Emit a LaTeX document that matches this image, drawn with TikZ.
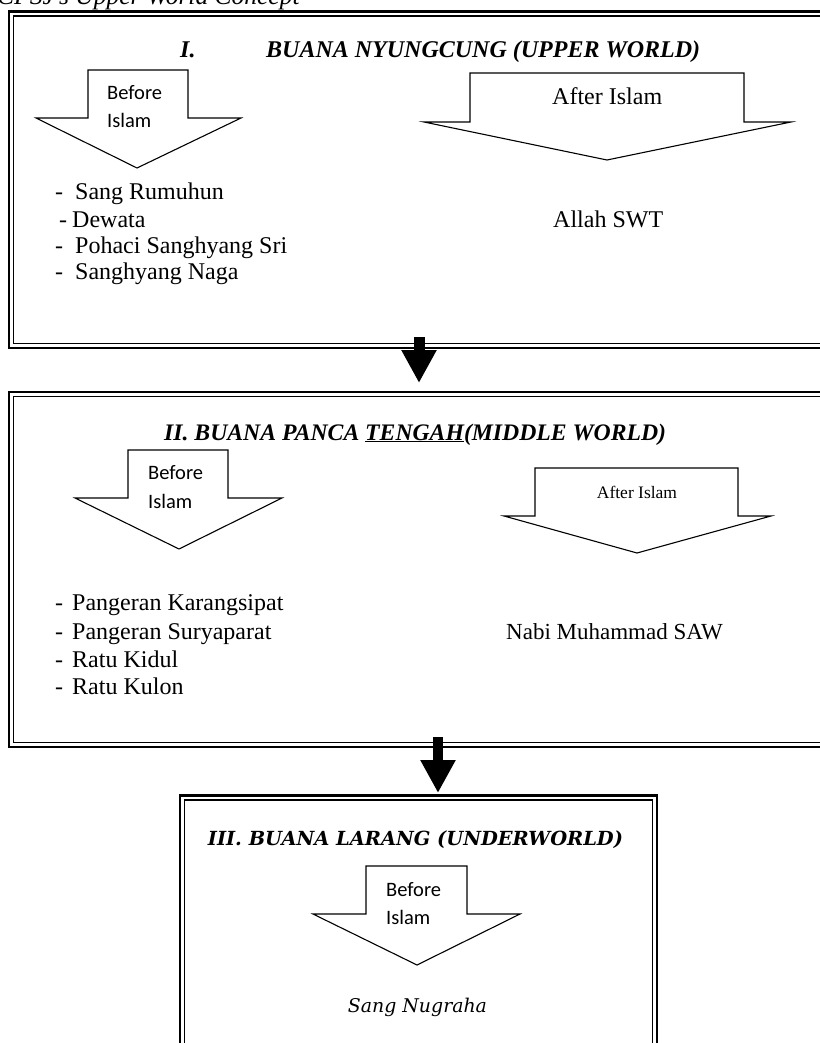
\documentclass[tikz,border=0pt]{standalone}
\usepackage{fontspec}
\setmainfont{Liberation Serif}
\newfontfamily\calib{Carlito}
\newfontfamily\camb{DejaVu Serif}
\usetikzlibrary{arrows.meta}
\tikzset{
  outerline/.style={draw=black, line width=2.6pt},
  innerline/.style={draw=black, line width=1.3pt},
  blockarrow/.style={draw=black, line width=1.1pt, fill=white, line join=miter},
  connarrow/.style={draw=black, line width=11pt, -{Triangle[length=33pt,width=33pt]}},
  beforetxt/.style={font=\calib\fontsize{20.5}{24}\selectfont, anchor=base west, inner sep=0pt},
  listtxt/.style={font=\fontsize{24}{28}\selectfont, anchor=base west, inner sep=0pt},
  headtxt/.style={font=\bfseries\itshape\fontsize{24}{28}\selectfont, anchor=base west, inner sep=0pt},
}
\newcommand\twoframe[4]{%
  \draw[outerline] (#1,#2) rectangle (#3,#4);
  \draw[innerline] (#1+4.5,#2+4.5) rectangle (#3-4.5,#4-4.5);
}
% down block arrow: body left, body right, top, shoulder, head left, head right, tip x, tip y
\newcommand\downblock[8]{%
  \draw[blockarrow] (#1,#3) -- (#2,#3) -- (#2,#4) -- (#6,#4) -- (#7,#8) -- (#5,#4) -- (#1,#4) -- cycle;
}
\begin{document}
\begin{tikzpicture}[x=1pt,y=-1pt]
\useasboundingbox (0,0) rectangle (819,1043);
\fill[white] (0,0) rectangle (819,1043);

% caption (cut at top)
\node[anchor=base west, inner sep=0pt, font=\itshape\fontsize{25.5}{30}\selectfont] (cap) at (-3,5) {CPSJ’s Upper World Concept};

% ---------- box 1 ----------
\twoframe{9}{11.5}{845}{348}
\node[headtxt] (h1num) at (180,58) {I.};
\node[headtxt] (h1) at (266,58) {BUANA NYUNGCUNG (UPPER WORLD)};

\downblock{88}{188}{70}{118}{36}{241}{137}{168}
\node[beforetxt] (b1a) at (107,99.5) {Before};
\node[beforetxt] (b1b) at (107,128) {Islam};

\downblock{470}{744}{73}{122}{424}{791}{607}{160}
\node[anchor=base west, inner sep=0pt, font=\fontsize{24}{28}\selectfont] (a1) at (552,105) {After Islam};

\node[listtxt] (d11) at (55,200) {-};
\node[listtxt] (l11) at (75,200) {Sang Rumuhun};
\node[listtxt] (d12) at (59,227) {-};
\node[listtxt] (l12) at (72,227) {Dewata};
\node[listtxt] (d13) at (55,253) {-};
\node[listtxt] (l13) at (75,253) {Pohaci Sanghyang Sri};
\node[listtxt] (d14) at (55,279) {-};
\node[listtxt] (l14) at (75,279) {Sanghyang Naga};
\node[listtxt] (allah) at (553,227) {Allah SWT};

\coordinate (box1out) at (419,337);
\coordinate (box2in) at (419,383);
\draw[connarrow] (box1out) -- (box2in);

% ---------- box 2 ----------
\twoframe{9}{392}{845}{747}
\node[anchor=base west, inner sep=0pt, font=\bfseries\itshape\fontsize{23.7}{28}\selectfont] (h2) at (164,440) {II. BUANA PANCA \underline{TENGAH}(MIDDLE WORLD)};

\downblock{128}{228}{450}{498}{75}{282}{179}{549}
\node[beforetxt] (b2a) at (148,479.5) {Before};
\node[beforetxt] (b2b) at (148,508) {Islam};

\downblock{535}{738}{468}{516}{504}{771}{637}{553}
\node[anchor=base, inner sep=0pt, font=\fontsize{17.5}{20}\selectfont] (a2) at (637,498) {After Islam};

\node[listtxt] (d21) at (55,610) {-};
\node[listtxt] (l21) at (72,610) {Pangeran Karangsipat};
\node[listtxt] (d22) at (55,639) {-};
\node[listtxt] (l22) at (72,639) {Pangeran Suryaparat};
\node[listtxt] (d23) at (55,667) {-};
\node[listtxt] (l23) at (72,667) {Ratu Kidul};
\node[listtxt] (d24) at (55,694) {-};
\node[listtxt] (l24) at (72,694) {Ratu Kulon};
\node[anchor=base west, inner sep=0pt, font=\fontsize{23}{28}\selectfont] (nabi) at (506,639) {Nabi Muhammad SAW};

\coordinate (box2out) at (438,737);
\coordinate (box3in) at (438,793);
\draw[connarrow, line width=10pt] (box2out) -- (box3in);

% ---------- box 3 ----------
\twoframe{180}{795.5}{657}{1070}
\node[anchor=base, inner sep=0pt] (h3) at (415.5,845) {\resizebox{415pt}{!}{\camb\bfseries\itshape III. BUANA LARANG (UNDERWORLD)}};

\downblock{366}{467}{866}{914}{313}{520}{417}{965}
\node[beforetxt] (b3a) at (386,896.5) {Before};
\node[beforetxt] (b3b) at (386,924.5) {Islam};

\node[anchor=base, inner sep=0pt] (nug) at (417.5,1012) {\resizebox{139pt}{!}{\camb\itshape Sang Nugraha}};
\end{tikzpicture}
\end{document}
